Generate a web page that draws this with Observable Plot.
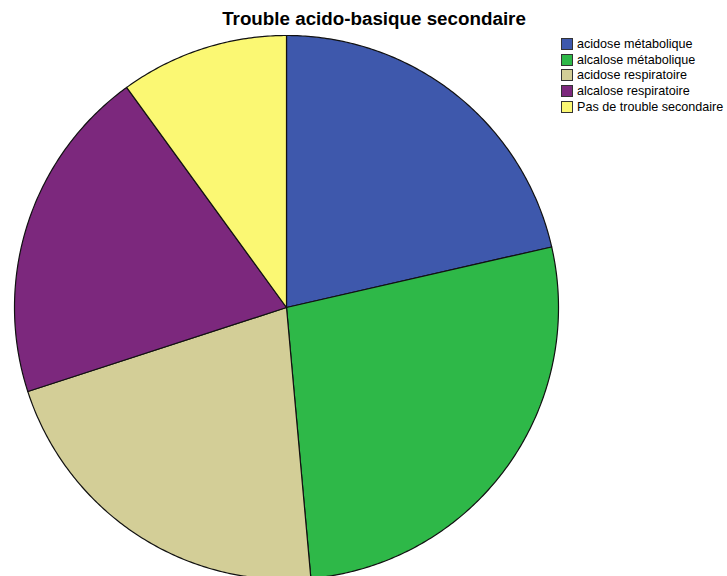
<!DOCTYPE html>
<html>
<head>
<meta charset="utf-8">
<script src="https://cdn.jsdelivr.net/npm/d3@7"></script>
<script src="https://cdn.jsdelivr.net/npm/@observablehq/plot@0.6"></script>
<style>
  html, body { margin: 0; padding: 0; background: #fff; }
  #wrap { position: relative; width: 727px; height: 576px; overflow: hidden; font-family: "Liberation Sans", Arial, sans-serif; }
  #title { position: absolute; left: 0; width: 748px; top: 8px; text-align: center; font-weight: bold; font-size: 18.8px; line-height: 22px; color: #000; }
  #legend { position: absolute; left: 561px; top: 36px; font-size: 12.6px; color: #000; }
  .row { display: flex; align-items: center; height: 15.8px; white-space: nowrap; }
  .sw { width: 10px; height: 10px; border: 1px solid #333; margin-right: 4px; flex: none; }
  #chart { position: absolute; left: 0; top: 0; }
</style>
</head>
<body>
<div id="wrap">
  <div id="chart"></div>
  <div id="title">Trouble acido-basique secondaire</div>
  <div id="legend"></div>
</div>
<script>
// Categories and counts for the secondary acid-base disorder pie
const categories = [
  "acidose métabolique",
  "alcalose métabolique",
  "acidose respiratoire",
  "alcalose respiratoire",
  "Pas de trouble secondaire"
];
const counts = [15, 19, 15, 14, 7];
const colors = ["#3e58ac", "#2eb848", "#d3ce97", "#7c287d", "#fbf873"];

// Slice angles, clockwise from 12 o'clock, in input order
const arcs = d3.pie().sort(null).value(d => d)(counts);

// Each slice becomes a closed polygon: centre, arc samples, centre
const polys = [];
arcs.forEach((a, i) => {
  const steps = Math.max(4, Math.ceil((a.endAngle - a.startAngle) / 0.01));
  polys.push({cat: categories[i], x: 0, y: 0});
  for (let k = 0; k <= steps; k++) {
    const t = a.startAngle + (a.endAngle - a.startAngle) * k / steps;
    polys.push({cat: categories[i], x: Math.sin(t), y: Math.cos(t)});
  }
  polys.push({cat: categories[i], x: 0, y: 0});
});

const cx = 286, cy = 307, r = 272;
const chart = Plot.plot({
  width: 727,
  height: 576,
  margin: 0,
  axis: null,
  x: {domain: [-1, 1], range: [cx - r, cx + r]},
  y: {domain: [-1, 1], range: [cy + r, cy - r]},
  color: {domain: categories, range: colors},
  marks: [
    Plot.line(polys, {
      x: "x", y: "y", z: "cat",
      fill: "cat",
      stroke: "#111",
      strokeWidth: 1.2,
      strokeLinejoin: "round",
      curve: "linear"
    })
  ]
});
document.getElementById("chart").appendChild(chart);

// Legend swatches
const legend = document.getElementById("legend");
categories.forEach((c, i) => {
  const row = document.createElement("div");
  row.className = "row";
  const sw = document.createElement("span");
  sw.className = "sw";
  sw.style.background = colors[i];
  const label = document.createElement("span");
  label.textContent = c;
  row.appendChild(sw);
  row.appendChild(label);
  legend.appendChild(row);
});
</script>
</body>
</html>
